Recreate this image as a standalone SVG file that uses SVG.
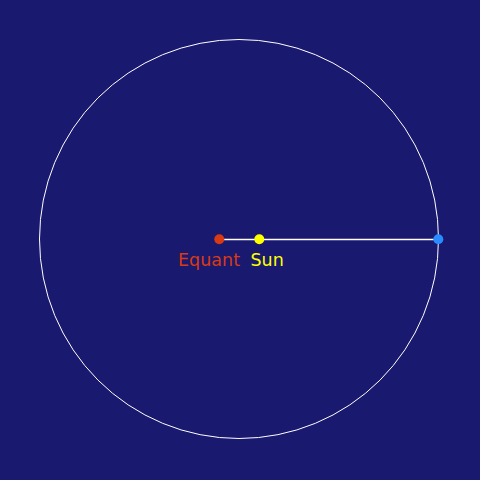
<svg xmlns="http://www.w3.org/2000/svg" width="480" height="480" viewBox="0 0 480 480">
<style>
.lbl{font-family:"DejaVu Sans",sans-serif;font-size:17.5px}
</style>
<rect width="480" height="480" fill="#191970"/>
<g id="connectors">
<circle cx="239" cy="239" r="199.5" fill="none" stroke="#ffffff" stroke-width="1"/>
<line x1="219" y1="239.5" x2="438" y2="239.5" stroke="#ffffff" stroke-width="1.5"/>
</g>
<g id="equant">
<circle cx="219.3" cy="239.3" r="5" fill="#d83a14"/>
<text class="lbl" x="240" y="266" text-anchor="end" fill="#d83a14">Equant</text>
</g>
<g id="sun">
<circle cx="259.3" cy="239.3" r="5" fill="#ffff00"/>
<text class="lbl" x="250.5" y="266" fill="#ffff00">Sun</text>
</g>
<g id="planet">
<circle cx="438.3" cy="239.3" r="5" fill="#2b8cff"/>
</g>
</svg>
